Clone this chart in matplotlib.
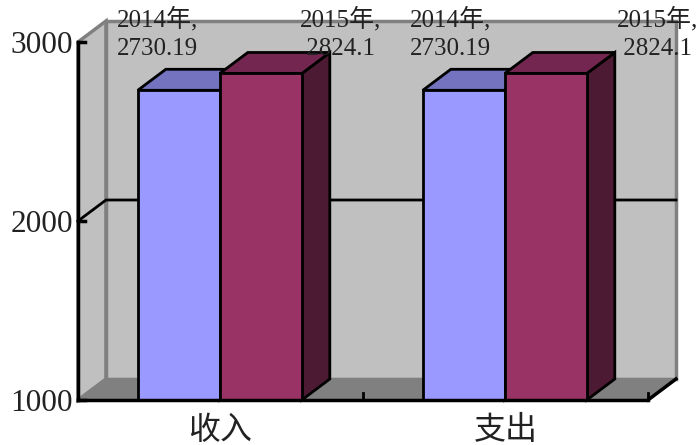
import matplotlib
matplotlib.use("Agg")
import matplotlib.pyplot as plt
from matplotlib.patches import Polygon

categories = ["收入", "支出"]
series_years = ["2014年", "2015年"]
values_2014 = [2730.19, 2730.19]
values_2015 = [2824.1, 2824.1]
y_ticks = [1000, 2000, 3000]

W, H = 697, 445
fig = plt.figure(figsize=(W / 100, H / 100), dpi=100)
ax = fig.add_axes([78 / W, 1 - 400 / H, 570 / W, 358 / H])
ax.set_xlim(0, 2)
ax.set_ylim(1000, 3000)
ax.axis("off")

# depth of the 3d box, in data units
dx = 28 / 285
dy = 21 * 2000 / 358
bar_w = 82 / 285
px_x = 1 / 285
px_y = 2000 / 358
black = "#000000"

def poly(pts, fc, ec=black, lw=2, z=2):
    ax.add_patch(Polygon(pts, closed=True, facecolor=fc, edgecolor=ec,
                         linewidth=lw, clip_on=False, zorder=z, joinstyle="miter"))

# walls and floor
poly([(0, 1000), (dx, 1000 + dy), (dx, 3000 + dy), (0, 3000)], "#c0c0c0", "#808080", 2.5, 1)
poly([(dx, 1000 + dy), (2 + dx, 1000 + dy), (2 + dx, 3000 + dy), (dx, 3000 + dy)], "#c0c0c0", "#808080", 2.5, 1)
poly([(0, 1000), (dx, 1000 + dy), (2 + dx, 1000 + dy), (2, 1000)], "#808080", "#808080", 1.5, 1.5)

# gridline on side wall and back wall
ax.plot([0, dx, 2 + dx], [2000, 2000 + dy, 2000 + dy], color=black, lw=2, clip_on=False, zorder=1.8)

def bar(x0, v, c_front, c_top, c_side):
    x1 = x0 + bar_w
    poly([(x1, 1000), (x1 + dx, 1000 + dy), (x1 + dx, v + dy), (x1, v)], c_side)
    poly([(x0, v), (x0 + dx, v + dy), (x1 + dx, v + dy), (x1, v)], c_top)
    poly([(x0, 1000), (x1, 1000), (x1, v), (x0, v)], c_front)

for i in range(len(categories)):
    c = i + 0.5 - 0.7 * px_x
    bar(c - bar_w, values_2014[i], "#9999ff", "#7373bf", "#4d4d80")
    bar(c, values_2015[i], "#993366", "#732650", "#4d1a33")

# axes lines
ax.plot([0, 0], [1000, 3000], color=black, lw=2.5, clip_on=False, zorder=5)
ax.plot([0, 2], [1000, 1000], color=black, lw=2.5, clip_on=False, zorder=5)
ax.plot([2, 2 + dx], [1000, 1000 + dy], color=black, lw=2.5, clip_on=False, zorder=5)
for t in y_ticks:
    ax.plot([0, 7 * px_x], [t, t], color=black, lw=2.5, clip_on=False, zorder=5)
for x in [1, 2]:
    ax.plot([x, x], [1000, 1000 + 7 * px_y], color=black, lw=2, clip_on=False, zorder=5)

# tick labels
for t in y_ticks:
    ax.text(-5 * px_x, t - 3.5 * px_y, str(t), ha="right", va="center", fontsize=22.5,
            family="Liberation Serif", color="#222222", clip_on=False, zorder=6)
for i, name in enumerate(categories):
    ax.text(i + 0.5, 1000 - 14 * px_y, name, ha="center", va="top", fontsize=23,
            family="Noto Sans CJK SC", color="#222222", zorder=6)

# data labels
label_x = [(39 * px_x, 222 * px_x), (332 * px_x, 539 * px_x)]
for i in range(len(categories)):
    for j, vals in enumerate([values_2014, values_2015]):
        pad = "" if j == 0 else " "
        ax.text(label_x[i][j], 3000 + 35 * px_y,
                series_years[j] + ",\n" + pad + str(vals[i]),
                ha="left", va="top", fontsize=18, linespacing=1.4,
                family=["Liberation Serif", "Noto Sans CJK SC"],
                color="#222222", clip_on=False, zorder=7)

fig.savefig("out.png", dpi=100)
